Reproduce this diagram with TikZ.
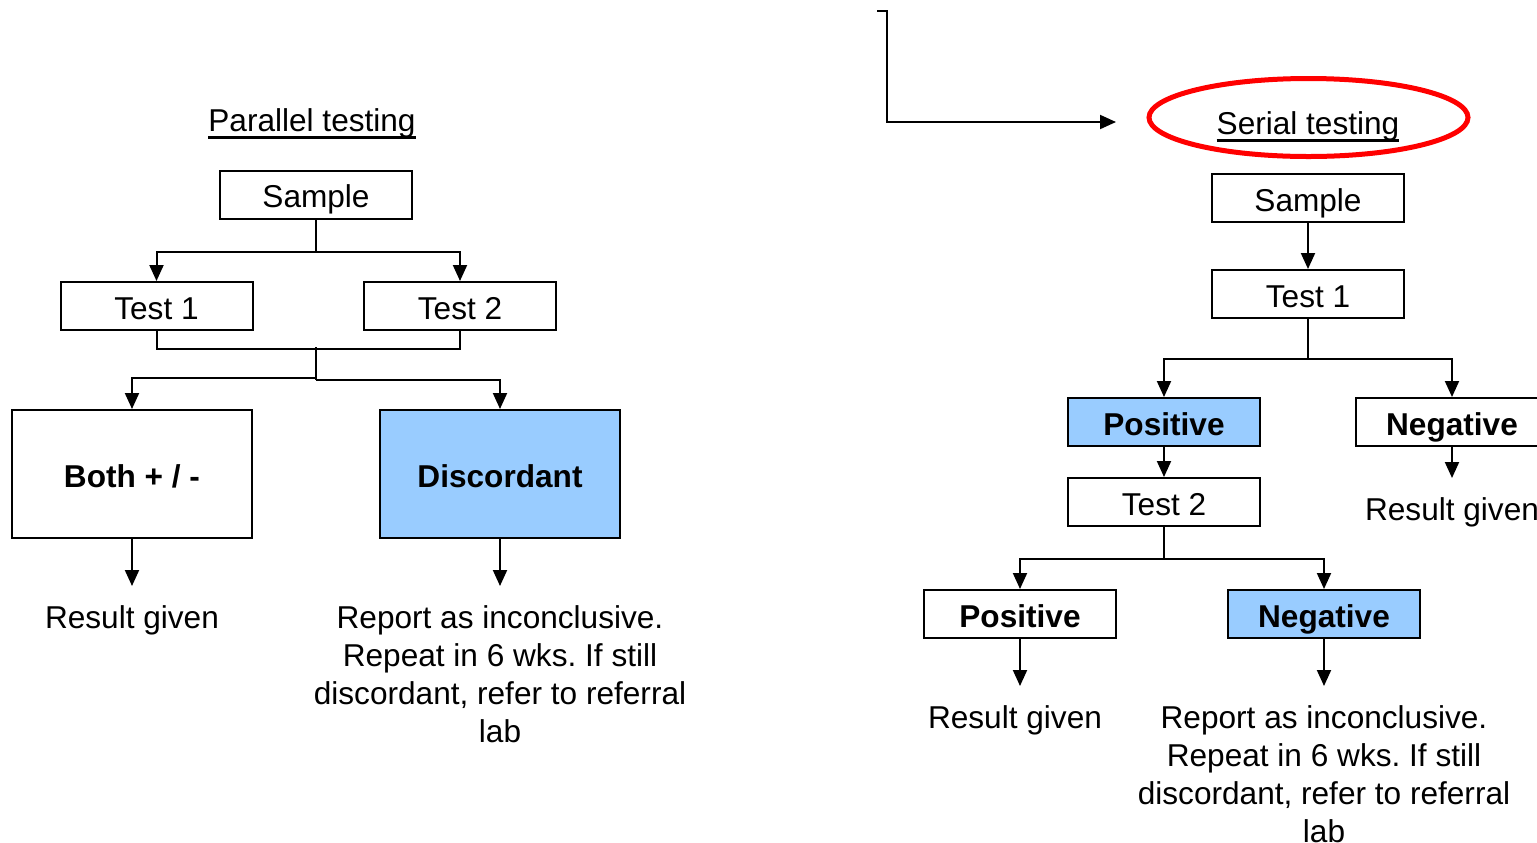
\documentclass[tikz,border=0pt]{standalone}
\usepackage{fontspec}
\setmainfont{Liberation Sans}
\usetikzlibrary{positioning}
\usetikzlibrary{arrows.meta}
\usetikzlibrary{shapes.geometric}
\definecolor{boxblue}{RGB}{153,204,255}
\definecolor{ringred}{RGB}{255,0,0}
\newcommand{\undl}[1]{\setbox0=\hbox{#1}\rlap{\rule[-3.8pt]{\wd0}{1.4pt}}\box0}
\tikzset{
  box/.style={draw, line width=1pt, minimum width=96pt, minimum height=24pt, inner sep=0pt, text height=13pt, text depth=0pt},
  bigbox/.style={box, minimum width=120pt, minimum height=64pt},
  hit/.style={fill=boxblue},
  note/.style={align=center, inner sep=9.5pt},
  arr/.style={-{Triangle[length=8pt,width=7pt]}, line width=1pt},
}
\frenchspacing
\begin{document}
\begin{tikzpicture}[x=0.5pt, y=-0.5pt, line width=1pt, every node/.style={font=\fontsize{15.8pt}{19pt}\selectfont}]
    \useasboundingbox (0,0) rectangle (1537,842);
    % parallel testing
    \node[anchor=base] (titleL) at (312,131) {\undl{Parallel testing}};
    \node[box] (sampleL) at (316,194.5) {Sample};
    \node[box] (test1L) at (156.5,306) {Test 1};
    \node[box] (test2L) at (460,306) {Test 2};
    \node[bigbox] (bothL) at (132,474) {\textbf{Both + / -}};
    \node[bigbox, hit] (discL) at (500,474) {\textbf{Discordant}};
    \node[note, below=23.5pt of bothL] (resL) {Result given};
    \node[note, below=23.5pt of discL] (incL) {Report as inconclusive.\\Repeat in 6 wks. If still\\discordant, refer to referral\\lab};
    \draw[arr] (sampleL.south) -- ++(0,32) -| (test1L.north);
    \draw[arr] (sampleL.south) ++(0,32) -| (test2L.north);
    \draw (test1L.south) -- ++(0,18) -| (test2L.south);
    \coordinate (mergeL) at (316,347);
    \draw (mergeL) -- ++(0,33);
    \draw[arr] (mergeL) ++(0,31) -| (bothL.north);
    \draw[arr] (mergeL) ++(0,33) -| (discL.north);
    \draw[arr] (bothL.south) -- (resL.north);
    \draw[arr] (discL.south) -- (incL.north);
    % serial testing
    \coordinate (hookR) at (877,11);
    \coordinate (pointR) at (1116,122);
    \draw[arr] (hookR) -- ++(10,0) |- (pointR);
    \node[ellipse, draw=ringred, line width=2.5pt, minimum width=159.5pt, minimum height=39pt, inner sep=0pt] (ringR) at (1308.5,117.5) {};
    \node[anchor=base] (titleR) at (1308,134) {\undl{Serial testing}};
    \node[box] (sampleR) at (1308,198) {Sample};
    \node[box] (test1R) at (1308,294) {Test 1};
    \node[box, hit] (posR) at (1164,422) {\textbf{Positive}};
    \node[box] (negR) at (1452,422) {\textbf{Negative}};
    \node[box] (test2R) at (1164,502) {Test 2};
    \node[box] (pos2R) at (1020,614) {\textbf{Positive}};
    \node[box, hit] (neg2R) at (1324,614) {\textbf{Negative}};
    \node[note, below=15.5pt of negR] (resR) {Result given};
    \node[note, below=23.5pt of pos2R, xshift=-2.5pt] (res2R) {Result given};
    \node[note, below=23.5pt of neg2R] (inc2R) {Report as inconclusive.\\Repeat in 6 wks. If still\\discordant, refer to referral\\lab};
    \draw[arr] (sampleR) -- (test1R);
    \draw[arr] (test1R.south) -- ++(0,40) -| (posR.north);
    \draw[arr] (test1R.south) ++(0,40) -| (negR.north);
    \draw[arr] (posR) -- (test2R);
    \draw[arr] (negR) -- (resR);
    \draw[arr] (test2R.south) -- ++(0,32) -| (pos2R.north);
    \draw[arr] (test2R.south) ++(0,32) -| (neg2R.north);
    \draw[arr] (pos2R.south) -- (pos2R.south |- res2R.north);
    \draw[arr] (neg2R) -- (inc2R);
\end{tikzpicture}
\end{document}
